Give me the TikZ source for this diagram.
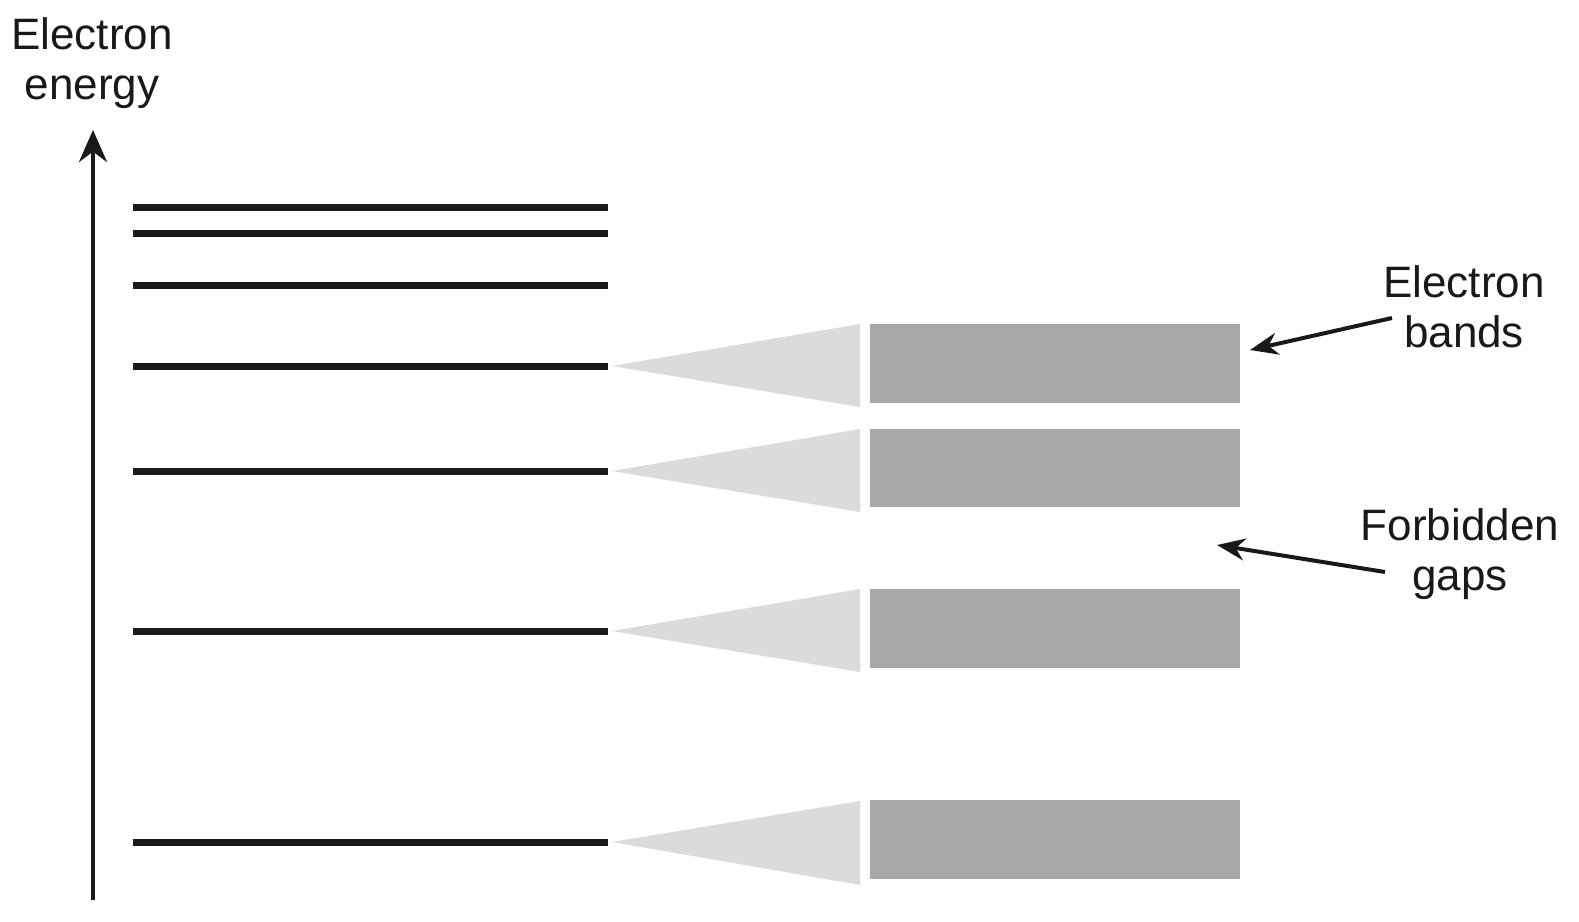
\documentclass[tikz,border=0pt]{standalone}
\usepackage{fontspec}
\setmainfont{Liberation Sans}
\usetikzlibrary{arrows.meta}
\begin{document}
\begin{tikzpicture}[x=0.5pt,y=-0.5pt,
  level/.style={line width=3.5pt,draw=black!90},
  tri/.style={fill=black!14,draw=none},
  band/.style={fill=black!34,draw=none},
  lbl/.style={font=\fontsize{22}{25}\selectfont,align=center,text=black!90},
  ptr/.style={line width=2pt,draw=black!90,-{Stealth[length=14pt,width=11pt]}}]
\useasboundingbox (0,0) rectangle (1579,921);
\coordinate (a0) at (93,900); \coordinate (a1) at (93,130);
\draw[line width=2.2pt,black!90,-{Stealth[length=16pt,width=14pt]}] (a0) -- (a1);
\node[lbl] (ee) at (92,63) {Electron\\energy};
\foreach \y in {207,233,285,366,471,631,842}{
  \draw[level] (133,\y) -- (608,\y);}
\foreach \y/\a/\b in {366/324/407,471/429/512,631/589/672,842/801/885}{
  \fill[tri] (612,\y) -- (860,\a) -- (860,\b) -- cycle;}
\foreach \a/\b in {324/403,429/507,589/668,800/879}{
  \fill[band] (870,\a) rectangle (1240,\b);}
\node[lbl] (eb) at (1464,307) {Electron\\bands};
\node[lbl] (fg) at (1460,554) {Forbidden\\gaps};
\coordinate (eb1) at (1392,318); \coordinate (eb2) at (1250,350);
\coordinate (fg1) at (1385,572); \coordinate (fg2) at (1217,545);
\draw[ptr] (eb1) -- (eb2);
\draw[ptr] (fg1) -- (fg2);
\end{tikzpicture}
\end{document}
